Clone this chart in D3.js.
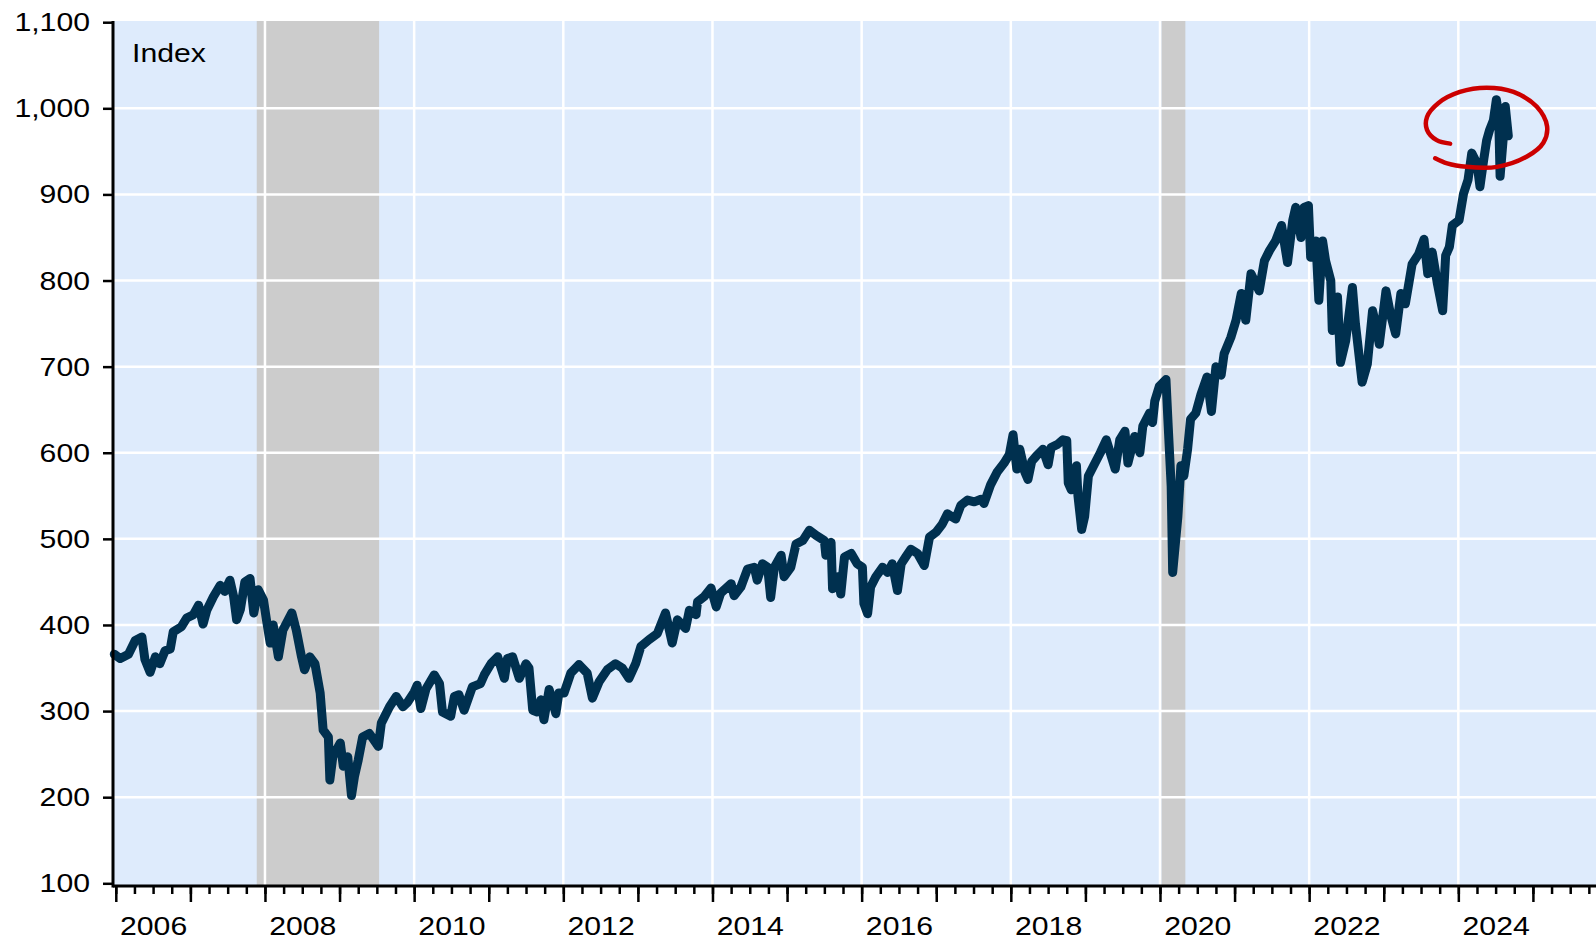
<!DOCTYPE html>
<html>
<head>
<meta charset="utf-8">
<script src="https://d3js.org/d3.v7.min.js"></script>
<style>
  body { margin: 0; background: #fff; }
  text { font-family: "Liberation Sans", Arial, sans-serif; fill: #000; }
</style>
</head>
<body>
<div id="chart"></div>
<script>
// index level, decimal year / value
var dates = [
  2005.98, 2006.06, 2006.17, 2006.26, 2006.35, 2006.39, 2006.46, 2006.53, 2006.59, 2006.66,
  2006.73, 2006.77, 2006.88, 2006.95, 2007.04, 2007.11, 2007.17, 2007.22, 2007.31, 2007.40,
  2007.46, 2007.53, 2007.58, 2007.62, 2007.67, 2007.73, 2007.80, 2007.85, 2007.91, 2007.98,
  2008.02, 2008.07, 2008.11, 2008.18, 2008.24, 2008.36, 2008.42, 2008.49, 2008.53, 2008.60,
  2008.67, 2008.74, 2008.78, 2008.85, 2008.87, 2008.91, 2009.01, 2009.05, 2009.11, 2009.16,
  2009.20, 2009.25, 2009.31, 2009.40, 2009.52, 2009.56, 2009.67, 2009.76, 2009.85, 2009.91,
  2010.00, 2010.04, 2010.09, 2010.16, 2010.27, 2010.34, 2010.38, 2010.49, 2010.54, 2010.60,
  2010.67, 2010.78, 2010.89, 2010.94, 2011.03, 2011.12, 2011.21, 2011.25, 2011.32, 2011.41,
  2011.50, 2011.54, 2011.59, 2011.65, 2011.70, 2011.74, 2011.81, 2011.90, 2011.94, 2012.01,
  2012.10, 2012.21, 2012.32, 2012.39, 2012.48, 2012.59, 2012.70, 2012.79, 2012.88, 2012.97,
  2013.04, 2013.15, 2013.26, 2013.37, 2013.46, 2013.53, 2013.64, 2013.69, 2013.78, 2013.80,
  2013.89, 2013.98, 2014.05, 2014.11, 2014.25, 2014.29, 2014.38, 2014.47, 2014.56, 2014.60,
  2014.67, 2014.74, 2014.78, 2014.83, 2014.92, 2014.96, 2015.05, 2015.12, 2015.21, 2015.30,
  2015.39, 2015.50, 2015.52, 2015.59, 2015.61, 2015.68, 2015.72, 2015.77, 2015.86, 2015.94,
  2016.01, 2016.03, 2016.08, 2016.12, 2016.19, 2016.28, 2016.35, 2016.41, 2016.48, 2016.53,
  2016.59, 2016.66, 2016.75, 2016.84, 2016.91, 2017.00, 2017.08, 2017.15, 2017.26, 2017.33,
  2017.42, 2017.51, 2017.60, 2017.64, 2017.73, 2017.82, 2017.91, 2017.98, 2018.03, 2018.08,
  2018.12, 2018.19, 2018.23, 2018.28, 2018.34, 2018.43, 2018.50, 2018.54, 2018.63, 2018.70,
  2018.75, 2018.77, 2018.81, 2018.88, 2018.90, 2018.95, 2018.99, 2019.04, 2019.11, 2019.20,
  2019.28, 2019.40, 2019.46, 2019.53, 2019.57, 2019.66, 2019.73, 2019.77, 2019.86, 2019.90,
  2019.93, 2019.99, 2020.08, 2020.11, 2020.15, 2020.17, 2020.24, 2020.28, 2020.32, 2020.37,
  2020.41, 2020.48, 2020.55, 2020.63, 2020.69, 2020.75, 2020.82, 2020.86, 2020.95, 2021.02,
  2021.09, 2021.15, 2021.22, 2021.33, 2021.40, 2021.47, 2021.55, 2021.63, 2021.71, 2021.78,
  2021.82, 2021.89, 2021.93, 2021.99, 2022.02, 2022.09, 2022.13, 2022.18, 2022.22, 2022.29,
  2022.31, 2022.38, 2022.42, 2022.49, 2022.58, 2022.62, 2022.71, 2022.78, 2022.85, 2022.89,
  2022.94, 2023.03, 2023.09, 2023.16, 2023.23, 2023.29, 2023.38, 2023.47, 2023.54, 2023.59,
  2023.65, 2023.72, 2023.79, 2023.83, 2023.88, 2023.92, 2024.01, 2024.07, 2024.13, 2024.18,
  2024.25, 2024.29, 2024.34, 2024.38, 2024.42, 2024.47, 2024.51, 2024.54, 2024.56, 2024.60,
  2024.63, 2024.67
];
var values = [
  366, 361, 366, 382, 386, 360, 345, 363, 355, 370,
  372, 392, 398, 408, 412, 423, 401, 417, 433, 446,
  439, 452, 433, 406, 418, 450, 454, 414, 441, 429,
  406, 379, 400, 363, 394, 414, 394, 363, 348, 363,
  355, 321, 278, 270, 220, 247, 263, 236, 247, 202,
  224, 243, 270, 274, 259, 286, 305, 317, 305, 310,
  322, 330, 303, 326, 342, 332, 299, 294, 317, 319,
  301, 328, 332, 342, 355, 363, 338, 361, 363, 338,
  355, 350, 301, 299, 313, 290, 325, 297, 321, 321,
  344, 354, 344, 315, 334, 348, 355, 350, 338, 355,
  375, 383, 390, 414, 379, 406, 396, 417, 412, 427,
  433, 443, 421, 437, 448, 434, 444, 465, 467, 452,
  471, 467, 432, 467, 481, 456, 467, 494, 498, 510,
  504, 498, 481, 496, 442, 456, 436, 479, 483, 471,
  467, 425, 413, 444, 456, 467, 461, 471, 440, 471,
  479, 488, 483, 469, 502, 508, 517, 529, 523, 539,
  545, 543, 546, 541, 563, 578, 588, 598, 621, 581,
  604, 577, 569, 590, 596, 604, 586, 606, 610, 615,
  614, 565, 557, 585, 550, 511, 526, 573, 585, 600,
  615, 581, 615, 625, 588, 619, 600, 631, 646, 635,
  660, 677, 685, 631, 561, 461, 526, 585, 573, 604,
  639, 646, 668, 688, 648, 700, 690, 715, 734, 754,
  785, 754, 808, 788, 823, 835, 846, 864, 821, 870,
  885, 850, 885, 887, 827, 846, 777, 846, 823, 800,
  742, 781, 705, 730, 792, 750, 682, 703, 765, 750,
  726, 788, 761, 738, 785, 773, 819, 831, 848, 808,
  833, 796, 765, 829, 839, 864, 870, 901, 917, 948,
  936, 909, 940, 963, 975, 986, 1010, 994, 921, 963,
  1002, 968
];

var yTicks = [100, 200, 300, 400, 500, 600, 700, 800, 900, 1000, 1100];
var gridYears = [2008, 2010, 2012, 2014, 2016, 2018, 2020, 2022, 2024];
var labelYears = [2006, 2008, 2010, 2012, 2014, 2016, 2018, 2020, 2022, 2024];
var recessionStart = [2007.89, 2020.02];
var recessionEnd = [2009.53, 2020.34];

// red hand-drawn loop around the latest highs
var loopYears = [2023.89, 2023.71, 2023.58, 2023.58, 2023.73, 2024.02, 2024.38, 2024.74,
  2025.05, 2025.19, 2025.14, 2024.92, 2024.52, 2024.11, 2023.85, 2023.69];
var loopValues = [959, 963, 975, 990, 1006, 1019, 1024, 1019,
  1002, 979, 960, 944, 932, 932, 936, 942];

var W = 1596, H = 941;
var plotL = 113, plotT = 21, plotB = 886, plotR = 1596;
var textScale = 1.14;
var fontSize = 26.5;

var svg = d3.select("#chart").append("svg")
  .attr("width", W).attr("height", H);

var x = d3.scaleLinear().domain([2006, 2026]).range([115.8, 1607.5]);
var y = d3.scaleLinear().domain([100, 1100]).range([883.3, 22.2]);

// plot background
svg.append("rect")
  .attr("x", plotL).attr("y", plotT)
  .attr("width", plotR - plotL).attr("height", plotB - plotT)
  .attr("fill", "#deebfc");

// recession shading
svg.append("g").selectAll("rect")
  .data(recessionStart)
  .enter().append("rect")
  .attr("x", function(d) { return x(d); })
  .attr("y", plotT)
  .attr("width", function(d, i) { return x(recessionEnd[i]) - x(d); })
  .attr("height", plotB - plotT)
  .attr("fill", "#cccccc");

// grid
var grid = svg.append("g").attr("stroke", "#fff").attr("stroke-width", 2.5);
grid.selectAll(".gy").data(yTicks.slice(1, -1)).enter().append("line")
  .attr("x1", plotL).attr("x2", plotR)
  .attr("y1", function(d) { return y(d); })
  .attr("y2", function(d) { return y(d); });
grid.selectAll(".gx").data(gridYears).enter().append("line")
  .attr("y1", plotT).attr("y2", plotB)
  .attr("x1", function(d) { return x(d); })
  .attr("x2", function(d) { return x(d); });

// the index
var series = dates.map(function(d, i) { return [d, values[i]]; });
var line = d3.line()
  .x(function(d) { return x(d[0]); })
  .y(function(d) { return y(d[1]); });

svg.append("path")
  .datum(series)
  .attr("d", line)
  .attr("fill", "none")
  .attr("stroke", "#00304f")
  .attr("stroke-width", 9)
  .attr("stroke-linejoin", "round")
  .attr("stroke-linecap", "round");

// axes
var quarters = d3.range(2006, 2026, 0.25);
var years = d3.range(2006, 2026, 1);

var xq = svg.append("g").attr("transform", "translate(0," + plotB + ")")
  .call(d3.axisBottom(x).tickValues(quarters).tickSize(8).tickFormat(""));
var xy = svg.append("g").attr("transform", "translate(0," + plotB + ")")
  .call(d3.axisBottom(x).tickValues(years).tickSize(16).tickFormat(""));
var xl = svg.append("g").attr("transform", "translate(0," + plotB + ")")
  .call(d3.axisBottom(x).tickValues(labelYears.map(function(d) { return d + 0.5; }))
    .tickSize(0).tickPadding(30).tickFormat(function(d) { return Math.floor(d); }));

[xq, xy, xl].forEach(function(g) {
  g.select(".domain").remove();
  g.selectAll("line").attr("stroke", "#000").attr("stroke-width", 2.5);
});
xl.selectAll("text")
  .attr("font-size", fontSize)
  .attr("font-family", "Liberation Sans, Arial, sans-serif")
  .attr("transform", "scale(" + textScale + ",1)");

var ya = svg.append("g").attr("transform", "translate(" + plotL + ",0)")
  .call(d3.axisLeft(y).tickValues(yTicks).tickSize(10).tickFormat(d3.format(",")));
ya.select(".domain").remove();
ya.selectAll("line").attr("stroke", "#000").attr("stroke-width", 2.5);
ya.selectAll("text")
  .attr("font-size", fontSize)
  .attr("font-family", "Liberation Sans, Arial, sans-serif")
  .attr("x", -23 / textScale)
  .attr("transform", "scale(" + textScale + ",1)");

// axis lines
svg.append("line")
  .attr("x1", plotL).attr("x2", plotR).attr("y1", plotB).attr("y2", plotB)
  .attr("stroke", "#000").attr("stroke-width", 3);
svg.append("line")
  .attr("x1", plotL).attr("x2", plotL).attr("y1", plotT).attr("y2", plotB + 1.5)
  .attr("stroke", "#000").attr("stroke-width", 3);

// unit label
svg.append("text")
  .attr("transform", "translate(132,62) scale(" + textScale + ",1)")
  .attr("font-size", fontSize)
  .text("Index");

// red circle annotation
var loop = d3.line()
  .x(function(d) { return x(d[0]); })
  .y(function(d) { return y(d[1]); })
  .curve(d3.curveCatmullRom);
svg.append("path")
  .datum(loopYears.map(function(d, i) { return [d, loopValues[i]]; }))
  .attr("d", loop)
  .attr("fill", "none")
  .attr("stroke", "#cc0000")
  .attr("stroke-width", 4.5)
  .attr("stroke-linecap", "round");
</script>
</body>
</html>
